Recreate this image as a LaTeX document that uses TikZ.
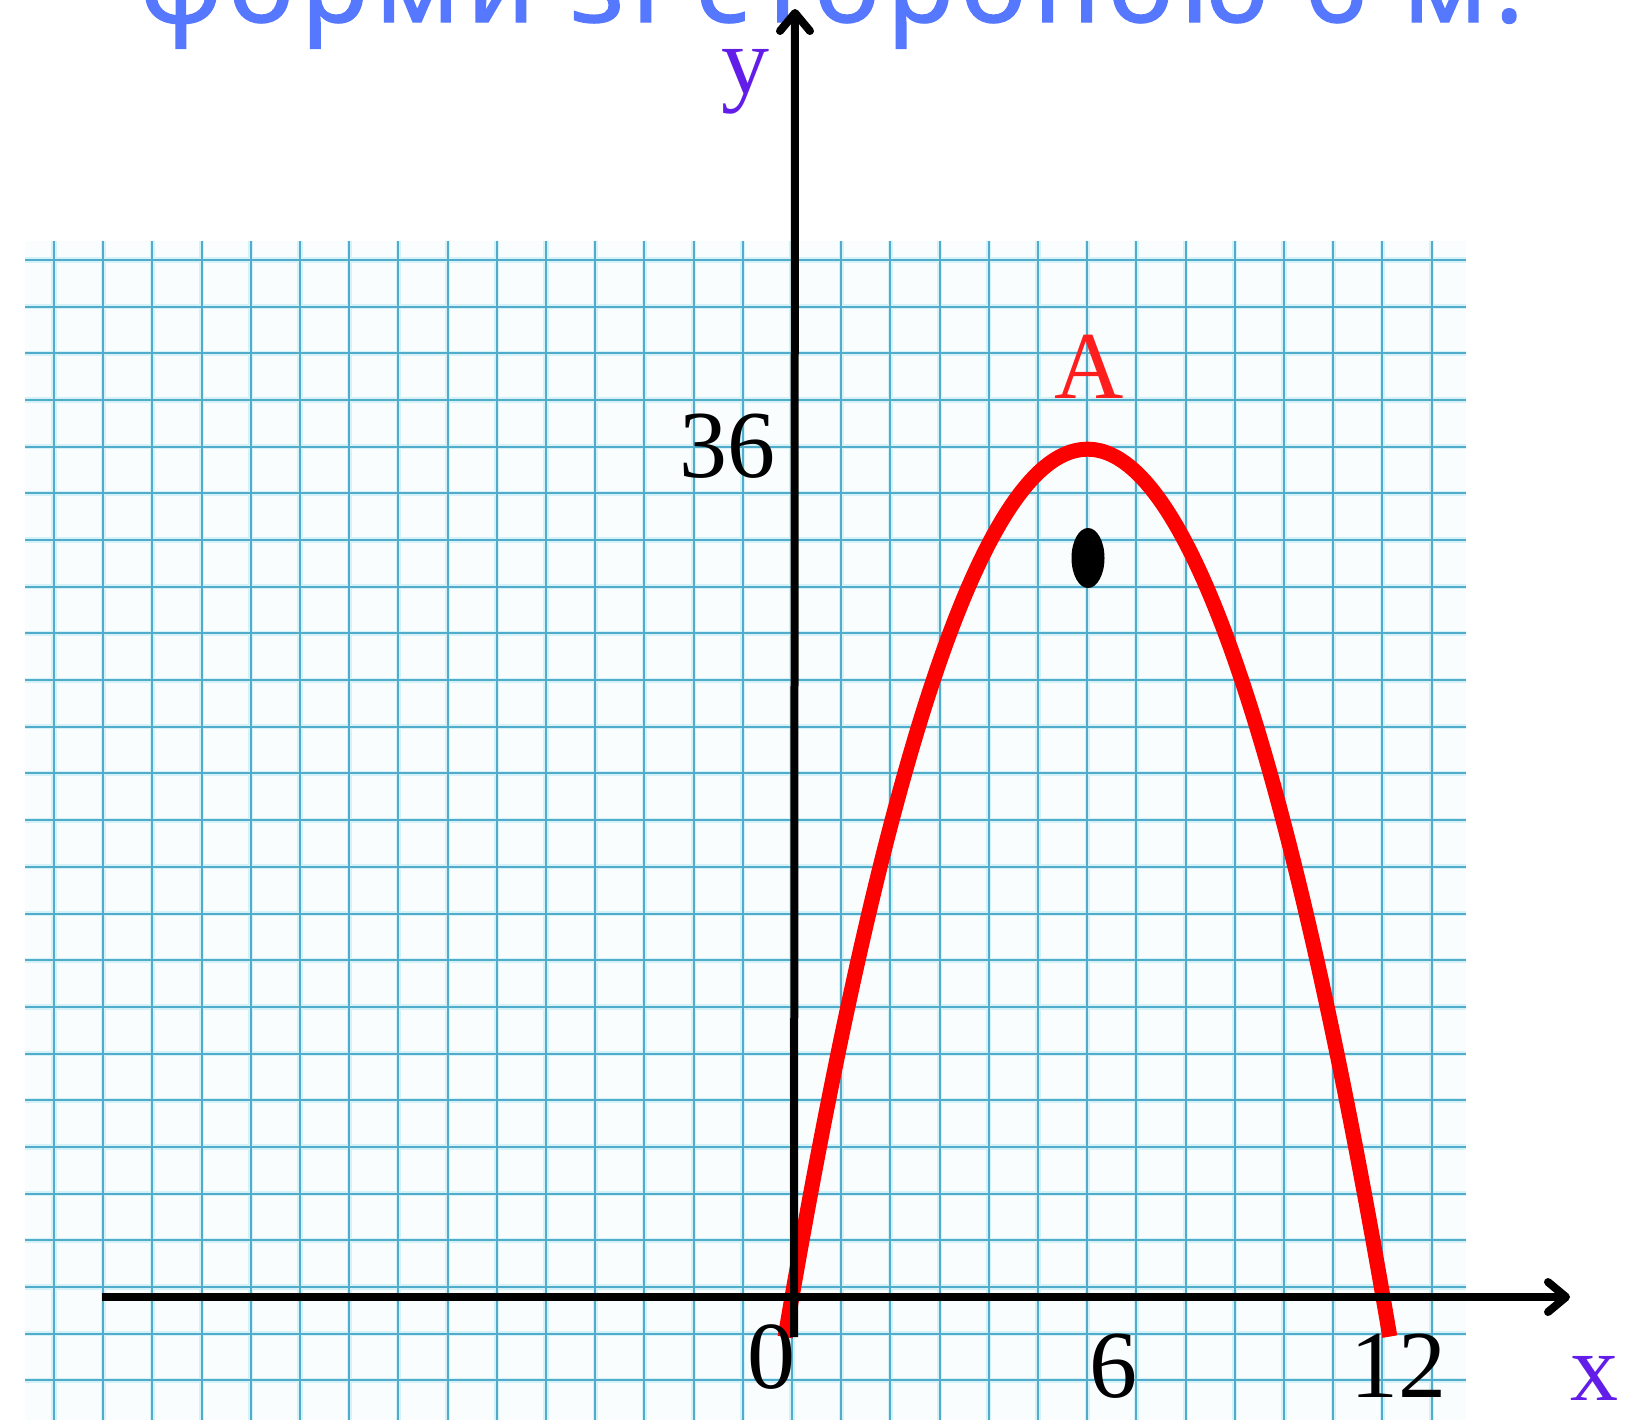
\documentclass[tikz,border=0pt]{standalone}
\usepackage{fontspec}
\setmainfont{Liberation Serif}
\newfontfamily\handfont[FakeBold=1.2]{Noto Sans}
\usetikzlibrary{arrows.meta,shapes.geometric}
\definecolor{gridc}{RGB}{80,172,202}
\definecolor{gridhalo}{RGB}{212,242,248}
\definecolor{paper}{RGB}{250,253,254}
\definecolor{titleblue}{RGB}{85,120,255}
\definecolor{labelpurple}{RGB}{98,30,232}
\definecolor{curvered}{RGB}{255,0,0}
\definecolor{labelred}{RGB}{255,30,30}
\tikzset{
  gridline/.style={gridc, line width=1pt},
  gridglow/.style={gridhalo, line width=2.6pt},
  axisline/.style={black, line width=4pt},
  axistip/.style={-{Straight Barb[length=9pt,width=15pt,round]}},
  numlabel/.style={anchor=base, inner sep=0, font=\fontsize{48pt}{50pt}\selectfont},
  axislabel/.style={numlabel, text=labelpurple},
  curvestyle/.style={curvered, line width=7.5pt},
  vdot/.style={ellipse, fill=black, minimum width=16.5pt, minimum height=30pt, inner sep=0}
}
\begin{document}
\begin{tikzpicture}[x=0.5pt,y=-0.5pt]
\useasboundingbox (0,0) rectangle (1633,1426);
\fill[white] (0,0) rectangle (1633,1426);
% squared paper
\fill[paper] (25,241) rectangle (1466,1420);
\foreach \k in {-15,...,13} \draw[gridglow] ({792+49.2*\k},241) -- ({792+49.2*\k},1420);
\foreach \k in {0,...,24} \draw[gridglow] (25,{260+46.68*\k}) -- (1466,{260+46.68*\k});
\foreach \k in {-15,...,13} \draw[gridline] ({792+49.2*\k},241) -- ({792+49.2*\k},1420);
\foreach \k in {0,...,24} \draw[gridline] (25,{260+46.68*\k}) -- (1466,{260+46.68*\k});
% title (cut off at top)
\begin{scope}
\clip (0,0) rectangle (1633,1426);
\node[anchor=base west, inner sep=0, text=titleblue, font=\handfont\fontsize{55pt}{60pt}\selectfont\addfontfeature{LetterSpace=6.5}] (title) at (140,22) {форми зі стороною 6 м.};
\end{scope}
% parabola
\draw[curvestyle] plot[domain=-0.14:12.14, samples=120, smooth] ({792+49.25*\x}, {1297-23.55*\x*(12-\x)});
% axes
\coordinate (xl) at (102,1297);
\coordinate (xr) at (1570,1297);
\coordinate (yb) at (794,1337);
\coordinate (yt) at (795,9);
\draw[axisline, axistip] (xl) -- (xr);
\draw[axisline, axistip] (yb) -- (yt);
% labels
\node[axislabel] (ylab) at (745,93) {y};
\node[axislabel] (xlab) at (1594,1400) {x};
\node[numlabel] (l36) at (727,477) {36};
\node[numlabel] (l0) at (771,1388) {0};
\node[numlabel] (l6) at (1113,1397) {6};
\node[numlabel] (l12) at (1398,1397) {12};
\node[numlabel, text=labelred] (lA) at (1089,398) {A};
\node[vdot] (vdot) at (1088,558) {};
\end{tikzpicture}
\end{document}
